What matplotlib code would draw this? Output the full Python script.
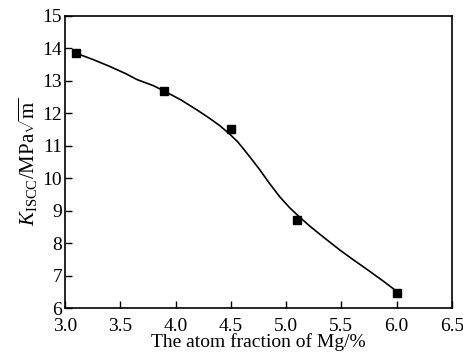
import matplotlib
matplotlib.use("Agg")
import matplotlib.pyplot as plt

# measured points
mg = [3.1, 3.9, 4.5, 5.1, 6.0]
kiscc = [13.85, 12.68, 11.52, 8.70, 6.48]

# fitted curve
curve_x = [3.10, 3.25, 3.40, 3.55, 3.65, 3.80, 3.90, 4.05, 4.20, 4.31, 4.40, 4.49,
           4.56, 4.62, 4.69, 4.76, 4.85, 4.94, 5.03, 5.12, 5.21, 5.30, 5.40, 5.49,
           5.62, 5.75, 5.88, 6.00]
curve_y = [13.85, 13.66, 13.45, 13.22, 13.04, 12.85, 12.68, 12.41, 12.09, 11.84, 11.62, 11.36,
           11.13, 10.88, 10.58, 10.27, 9.84, 9.44, 9.10, 8.81, 8.54, 8.29, 8.02, 7.78,
           7.46, 7.15, 6.83, 6.52]

xticks = [3.0, 3.5, 4.0, 4.5, 5.0, 5.5, 6.0, 6.5]
yticks = [6, 7, 8, 9, 10, 11, 12, 13, 14, 15]

plt.rcParams["font.family"] = "Liberation Serif"
plt.rcParams["mathtext.fontset"] = "custom"
plt.rcParams["mathtext.rm"] = "Liberation Serif"
plt.rcParams["mathtext.it"] = "Liberation Serif:italic"

fig = plt.figure(figsize=(4.64, 3.6), dpi=100)
ax = fig.add_axes([0.140, 0.144, 0.834, 0.812])

ax.plot(curve_x, curve_y, color="black", linewidth=1.2)
ax.plot(mg, kiscc, linestyle="none", marker="s", markersize=5.5, color="black")

ax.set_xlim(3.0, 6.5)
ax.set_ylim(6, 15)
ax.set_xticks(xticks)
ax.set_xticklabels(["%.1f" % v for v in xticks])
ax.set_yticks(yticks)
ax.tick_params(direction="in", length=5, width=1, labelsize=14, top=False, right=False)
ax.tick_params(axis="x", pad=7)
ax.tick_params(axis="y", pad=2)
for s in ax.spines.values():
    s.set_linewidth(1.2)

ax.set_xlabel("The atom fraction of Mg/%", fontsize=14, labelpad=-1)
ax.set_ylabel(r"$K_{\rm ISCC}$/MPa$\sqrt{\rm m}$", fontsize=15, labelpad=2)

fig.savefig("out.png", dpi=100)
